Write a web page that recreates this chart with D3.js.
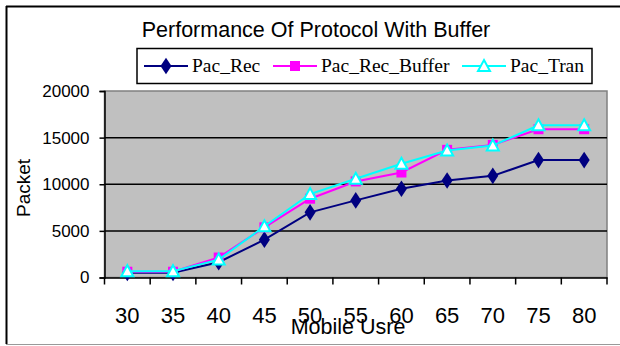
<!DOCTYPE html>
<html>
<head>
<meta charset="utf-8">
<script src="https://cdn.jsdelivr.net/npm/d3@7"></script>
<style>
  body { margin: 0; background: #fff; }
  svg { display: block; }
</style>
</head>
<body>
<div id="chart"></div>
<script>
// values
const users = ["30", "35", "40", "45", "50", "55", "60", "65", "70", "75", "80"];
const pacRec = [500, 500, 1640, 4060, 6990, 8270, 9520, 10400, 10900, 12590, 12590];
const pacRecBuffer = [620, 620, 2140, 5380, 8450, 10300, 11260, 13690, 14220, 15900, 15900];
const pacTran = [680, 680, 1920, 5490, 8950, 10590, 12190, 13610, 14150, 16330, 16330];
const yTicks = [0, 5000, 10000, 15000, 20000];

const width = 620, height = 346;
const margin = { top: 91, right: 13, bottom: 68.5, left: 104.5 };

const svg = d3.select("#chart").append("svg")
    .attr("width", width)
    .attr("height", height);

// outer frame
svg.append("line").attr("x1", 6).attr("x2", 620).attr("y1", 6.5).attr("y2", 6.5)
    .attr("stroke", "#000").attr("stroke-width", 2);
svg.append("line").attr("x1", 6.5).attr("x2", 6.5).attr("y1", 6).attr("y2", 344)
    .attr("stroke", "#000").attr("stroke-width", 2);
svg.append("line").attr("x1", 6).attr("x2", 620).attr("y1", 344.5).attr("y2", 344.5)
    .attr("stroke", "#999").attr("stroke-width", 1);

const x = d3.scaleBand()
    .domain(users)
    .range([margin.left, width - margin.right])
    .padding(0);

const y = d3.scaleLinear()
    .domain([0, 20000])
    .range([height - margin.bottom, margin.top]);

const px = d => x(d) + x.bandwidth() / 2;

// plot area
svg.append("rect")
    .attr("x", margin.left)
    .attr("y", y(20000))
    .attr("width", width - margin.right - margin.left)
    .attr("height", y(0) - y(20000))
    .attr("fill", "#c0c0c0")
    .attr("stroke", "#808080")
    .attr("stroke-width", 1.5);

// gridlines
svg.append("g")
    .selectAll("line")
    .data(yTicks.filter(d => d > 0 && d < 20000))
    .join("line")
    .attr("x1", margin.left)
    .attr("x2", width - margin.right)
    .attr("y1", d => y(d))
    .attr("y2", d => y(d))
    .attr("stroke", "#000")
    .attr("stroke-width", 1.5);

function yAxis(g) {
    g.attr("transform", `translate(${margin.left},0)`)
        .call(d3.axisLeft(y).tickValues(yTicks).tickSize(5).tickPadding(10).tickFormat(d3.format("d")))
        .call(g => g.select(".domain").attr("stroke-width", 1.5))
        .call(g => g.selectAll(".tick line").attr("stroke-width", 1.5))
        .attr("font-family", "Liberation Sans, Arial, sans-serif")
        .attr("font-size", "17px")
        .selectAll("text").attr("fill", "#000");
}

function xAxis(g) {
    g.attr("transform", `translate(0,${y(0)})`)
        .call(d3.axisBottom(x).tickSize(0).tickPadding(30))
        .call(g => g.select(".domain").attr("stroke-width", 1.5))
        .attr("font-family", "Liberation Sans, Arial, sans-serif")
        .attr("font-size", "22px")
        .selectAll("text").attr("fill", "#000");
    // tick marks on band edges
    g.selectAll(".edge")
        .data(users.concat(["end"]))
        .join("line")
        .attr("class", "edge")
        .attr("x1", (d, i) => i < users.length ? x(d) : x(users[users.length - 1]) + x.bandwidth())
        .attr("x2", (d, i) => i < users.length ? x(d) : x(users[users.length - 1]) + x.bandwidth())
        .attr("y1", 0)
        .attr("y2", 7)
        .attr("stroke", "#000")
        .attr("stroke-width", 1.5);
}

svg.append("g").call(xAxis);
svg.append("g").call(yAxis);

// series
const series = [
    { name: "Pac_Rec", values: pacRec, color: "#000080", marker: "diamond" },
    { name: "Pac_Rec_Buffer", values: pacRecBuffer, color: "#ff00ff", marker: "square" },
    { name: "Pac_Tran", values: pacTran, color: "#00ffff", marker: "triangle" }
];

const line = d3.line()
    .x((d, i) => px(users[i]))
    .y(d => y(d));

function drawMarker(sel, s) {
    if (s.marker === "diamond") {
        sel.append("path")
            .attr("d", d3.symbol(d3.symbolDiamond, 80)())
            .attr("transform", "scale(1.15,1)")
            .attr("fill", s.color);
    } else if (s.marker === "square") {
        sel.append("rect")
            .attr("x", -5).attr("y", -5).attr("width", 10).attr("height", 10)
            .attr("fill", s.color);
    } else {
        sel.append("path")
            .attr("d", "M0,-6L6,5L-6,5Z")
            .attr("fill", "#fff")
            .attr("stroke", s.color)
            .attr("stroke-width", 2);
    }
}

series.forEach(s => {
    svg.append("path")
        .datum(s.values)
        .attr("fill", "none")
        .attr("stroke", s.color)
        .attr("stroke-width", 2)
        .attr("d", line);
    svg.append("g")
        .selectAll("g")
        .data(s.values)
        .join("g")
        .attr("transform", (d, i) => `translate(${px(users[i])},${y(d)})`)
        .each(function () { drawMarker(d3.select(this), s); });
});

// title
svg.append("text")
    .attr("x", 316)
    .attr("y", 37)
    .attr("text-anchor", "middle")
    .attr("font-family", "Liberation Sans, Arial, sans-serif")
    .attr("font-size", "21.5px")
    .text("Performance Of Protocol With Buffer");

// legend
const legend = svg.append("g");
legend.append("rect")
    .attr("x", 137).attr("y", 48.5)
    .attr("width", 455).attr("height", 35)
    .attr("fill", "#fff")
    .attr("stroke", "#000")
    .attr("stroke-width", 1.5);

const legendX = [144, 273, 462];
series.forEach((s, i) => {
    const g = legend.append("g").attr("transform", `translate(${legendX[i]},66)`);
    g.append("line").attr("x1", 0).attr("x2", 44).attr("y1", 0).attr("y2", 0)
        .attr("stroke", s.color).attr("stroke-width", 2);
    drawMarker(g.append("g").attr("transform", "translate(22,0)"), s);
    g.append("text")
        .attr("x", 48)
        .attr("y", 6)
        .attr("font-family", "Liberation Serif, Times New Roman, serif")
        .attr("font-size", "19.5px")
        .text(s.name);
});

// axis titles
svg.append("text")
    .attr("x", 348)
    .attr("y", 334)
    .attr("text-anchor", "middle")
    .attr("font-family", "Liberation Sans, Arial, sans-serif")
    .attr("font-size", "21.5px")
    .text("Mobile Usre");

svg.append("text")
    .attr("transform", "translate(30,188) rotate(-90)")
    .attr("text-anchor", "middle")
    .attr("font-family", "Liberation Sans, Arial, sans-serif")
    .attr("font-size", "19px")
    .text("Packet");
</script>
</body>
</html>
